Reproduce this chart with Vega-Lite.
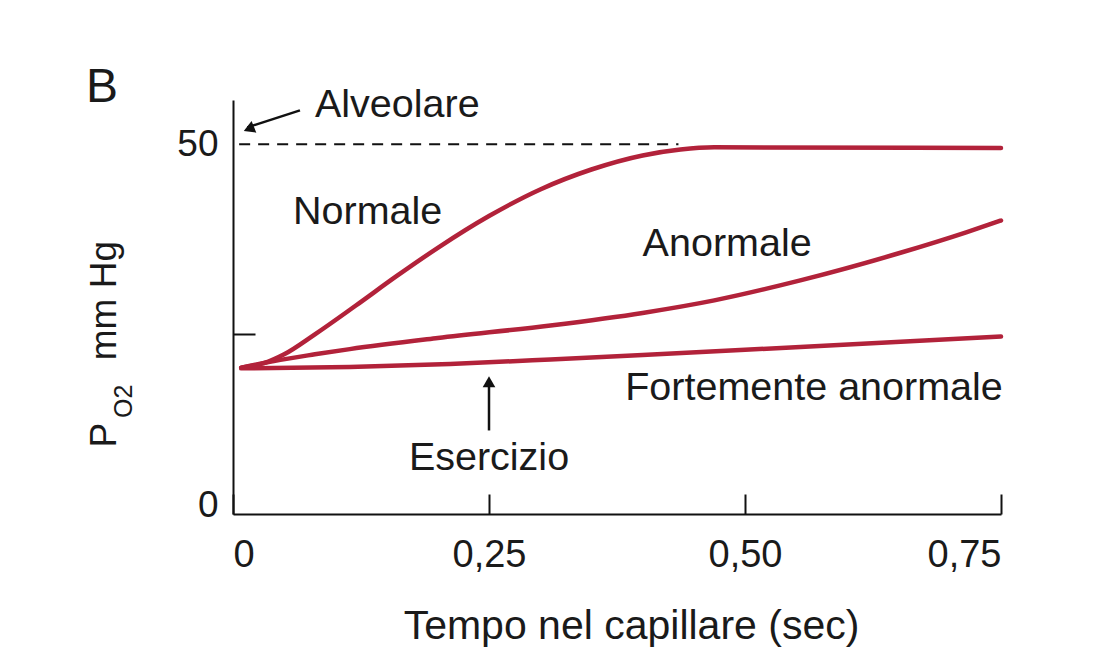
{
  "$schema": "https://vega.github.io/schema/vega-lite/v6.json",
  "width": 768,
  "height": 414,
  "autosize": {"type": "none"},
  "padding": {"left": 233, "top": 100, "right": 96, "bottom": 154},
  "background": "#ffffff",
  "config": {
    "view": {"stroke": null},
    "font": "Liberation Sans",
    "text": {"font": "Liberation Sans", "color": "#1a1a1a"}
  },
  "datasets": {
    "curves": [
      {"curve": "Normale", "t": 0.008, "p": 19.8},
      {"curve": "Normale", "t": 0.03, "p": 20.4},
      {"curve": "Normale", "t": 0.05, "p": 21.6},
      {"curve": "Normale", "t": 0.08, "p": 24.3},
      {"curve": "Normale", "t": 0.12, "p": 28.2},
      {"curve": "Normale", "t": 0.16, "p": 32.2},
      {"curve": "Normale", "t": 0.2, "p": 36.0},
      {"curve": "Normale", "t": 0.25, "p": 40.3},
      {"curve": "Normale", "t": 0.3, "p": 43.9},
      {"curve": "Normale", "t": 0.35, "p": 46.6},
      {"curve": "Normale", "t": 0.4, "p": 48.5},
      {"curve": "Normale", "t": 0.437, "p": 49.3},
      {"curve": "Normale", "t": 0.47, "p": 49.6},
      {"curve": "Normale", "t": 0.75, "p": 49.5},
      {"curve": "Anormale", "t": 0.008, "p": 19.8},
      {"curve": "Anormale", "t": 0.04, "p": 20.7},
      {"curve": "Anormale", "t": 0.08, "p": 21.6},
      {"curve": "Anormale", "t": 0.114, "p": 22.3},
      {"curve": "Anormale", "t": 0.2, "p": 23.8},
      {"curve": "Anormale", "t": 0.31, "p": 25.5},
      {"curve": "Anormale", "t": 0.4, "p": 27.2},
      {"curve": "Anormale", "t": 0.47, "p": 28.9},
      {"curve": "Anormale", "t": 0.554, "p": 31.6},
      {"curve": "Anormale", "t": 0.651, "p": 35.3},
      {"curve": "Anormale", "t": 0.716, "p": 38.1},
      {"curve": "Anormale", "t": 0.75, "p": 39.7},
      {"curve": "Fortemente anormale", "t": 0.008, "p": 19.7},
      {"curve": "Fortemente anormale", "t": 0.114, "p": 19.9},
      {"curve": "Fortemente anormale", "t": 0.212, "p": 20.3},
      {"curve": "Fortemente anormale", "t": 0.31, "p": 20.9},
      {"curve": "Fortemente anormale", "t": 0.4, "p": 21.5},
      {"curve": "Fortemente anormale", "t": 0.554, "p": 22.6},
      {"curve": "Fortemente anormale", "t": 0.75, "p": 24.0}
    ],
    "alveolar": [{"t": 0.006, "t2": 0.435, "p": 50}],
    "shafts": [
      {"t": 0.0654, "p": 54.6, "t2": 0.014, "p2": 52.3},
      {"t": 0.25, "p": 11.3, "t2": 0.25, "p2": 17.5}
    ],
    "headAlv": [{"t": 0.0155, "p": 52.1}],
    "headEse": [{"t": 0.25, "p": 17.9}],
    "labelsLeft": [
      {"text": "Alveolare", "t": 0.08, "p": 55.3},
      {"text": "Normale", "t": 0.0586, "p": 40.8},
      {"text": "Anormale", "t": 0.4, "p": 36.5},
      {"text": "Fortemente anormale", "t": 0.383, "p": 17.0}
    ],
    "labelsCenter": [{"text": "Esercizio", "t": 0.25, "p": 7.6}],
    "panel": [{"text": "B", "t": -0.128, "p": 57.6}],
    "ytitleMain": [
      {"text": "P", "t": -0.1143, "p": 9.0},
      {"text": "mm Hg", "t": -0.1143, "p": 20.8}
    ],
    "ytitleSub": [{"text": "O2", "t": -0.0986, "p": 13.0}]
  },
  "encoding": {
    "x": {
      "field": "t",
      "type": "quantitative",
      "scale": {"domain": [0, 0.75], "nice": false, "zero": false},
      "axis": {
        "values": [0, 0.25, 0.5, 0.75],
        "labelExpr": "datum.value == 0 ? '0' : replace(format(datum.value, '.2f'), '.', ',')",
        "grid": false,
        "domainColor": "#111111",
        "domainWidth": 2,
        "tickColor": "#111111",
        "tickWidth": 2,
        "tickSize": -20,
        "labelPadding": 42,
        "labelFont": "Liberation Sans",
        "labelFontSize": 38,
        "labelColor": "#1a1a1a",
        "title": "Tempo nel capillare (sec)",
        "titleFont": "Liberation Sans",
        "titleFontSize": 41,
        "titleFontWeight": "normal",
        "titleColor": "#1a1a1a",
        "titlePadding": 32,
        "titleX": 398
      }
    },
    "y": {
      "field": "p",
      "type": "quantitative",
      "scale": {"domain": [0, 56], "nice": false, "zero": false},
      "axis": {
        "values": [0, 24.3, 50],
        "labelExpr": "datum.value == 24.3 ? '' : format(datum.value, 'd')",
        "grid": false,
        "domainColor": "#111111",
        "domainWidth": 2,
        "tickColor": "#111111",
        "tickWidth": 2,
        "tickSize": -22,
        "tickOpacity": {"condition": {"test": "datum.value == 24.3", "value": 1}, "value": 0},
        "labelOffset": {"condition": {"test": "datum.value == 0", "value": -9}, "value": 0},
        "labelPadding": 37,
        "labelFont": "Liberation Sans",
        "labelFontSize": 37,
        "labelColor": "#1a1a1a",
        "title": null
      }
    }
  },
  "layer": [
    {
      "data": {"name": "alveolar"},
      "mark": {"type": "rule", "color": "#111111", "strokeWidth": 2, "strokeDash": [11, 8]},
      "encoding": {"x2": {"field": "t2"}}
    },
    {
      "data": {"name": "curves"},
      "mark": {"type": "line", "color": "#b2223a", "strokeWidth": 4.5, "strokeCap": "round", "interpolate": "monotone"},
      "encoding": {"detail": {"field": "curve"}, "order": {"field": "t", "type": "quantitative"}}
    },
    {
      "data": {"name": "shafts"},
      "mark": {"type": "rule", "color": "#111111", "strokeWidth": 2.5},
      "encoding": {"x2": {"field": "t2"}, "y2": {"field": "p2"}}
    },
    {
      "data": {"name": "headAlv"},
      "mark": {"type": "point", "shape": "triangle-up", "filled": true, "color": "#111111", "opacity": 1, "size": 160, "angle": 248},
      "encoding": {}
    },
    {
      "data": {"name": "headEse"},
      "mark": {"type": "point", "shape": "triangle-up", "filled": true, "color": "#111111", "opacity": 1, "size": 160, "angle": 0},
      "encoding": {}
    },
    {
      "data": {"name": "labelsLeft"},
      "mark": {"type": "text", "align": "left", "baseline": "middle", "fontSize": 39.5},
      "encoding": {"text": {"field": "text"}}
    },
    {
      "data": {"name": "labelsCenter"},
      "mark": {"type": "text", "align": "center", "baseline": "middle", "fontSize": 39.5},
      "encoding": {"text": {"field": "text"}}
    },
    {
      "data": {"name": "panel"},
      "mark": {"type": "text", "align": "center", "baseline": "middle", "fontSize": 48},
      "encoding": {"text": {"field": "text"}}
    },
    {
      "data": {"name": "ytitleMain"},
      "mark": {"type": "text", "align": "left", "baseline": "alphabetic", "angle": 270, "fontSize": 37},
      "encoding": {"text": {"field": "text"}}
    },
    {
      "data": {"name": "ytitleSub"},
      "mark": {"type": "text", "align": "left", "baseline": "alphabetic", "angle": 270, "fontSize": 25},
      "encoding": {"text": {"field": "text"}}
    }
  ]
}
